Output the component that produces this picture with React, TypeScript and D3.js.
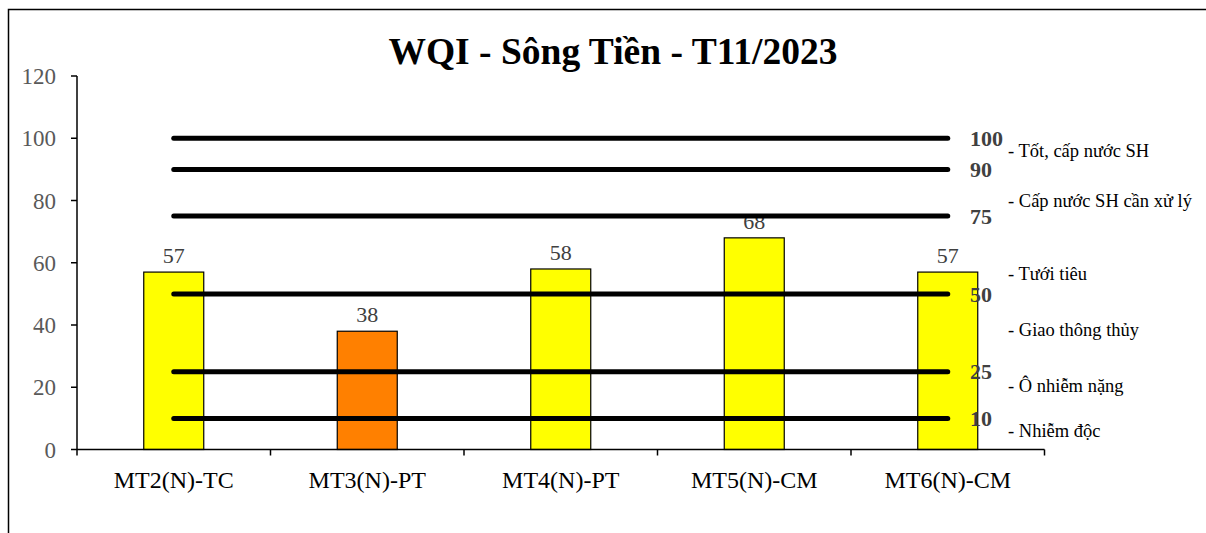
import React from "react";
import * as d3 from "d3";

const categories = ["MT2(N)-TC", "MT3(N)-PT", "MT4(N)-PT", "MT5(N)-CM", "MT6(N)-CM"];
const values = [57, 38, 58, 68, 57];
const barColors = ["#FFFF00", "#FF8000", "#FFFF00", "#FFFF00", "#FFFF00"];
const thresholds = [100, 90, 75, 50, 25, 10];
const yTicks = [0, 20, 40, 60, 80, 100, 120];
const classLabels = [
  { text: "- Tốt, cấp nước SH", v: 96 },
  { text: "- Cấp nước SH cần xử lý", v: 80 },
  { text: "- Tưới tiêu", v: 56.5 },
  { text: "- Giao thông thủy", v: 38.5 },
  { text: "- Ô nhiễm nặng", v: 20.5 },
  { text: "- Nhiễm độc", v: 6 },
];
const title = "WQI - Sông Tiền - T11/2023";

const W = 1206, H = 533;
const left = 77, right = 1044.5, top = 76, bottom = 449.5;
const font = "'Liberation Serif', 'Times New Roman', serif";

export default function App() {
  const x = d3.scaleBand<string>().domain(categories).range([left, right]).paddingInner(0).paddingOuter(0);
  const y = d3.scaleLinear().domain([0, 120]).range([bottom, top]);
  const bw = 60;
  const x0 = x(categories[0])! + x.bandwidth() / 2;
  const x1 = x(categories[categories.length - 1])! + x.bandwidth() / 2;
  return (
    <svg width={W} height={H} style={{ position: "absolute", left: 0, top: 0, background: "#fff" }}>
      <rect x={8.5} y={9.5} width={1300} height={700} fill="#fff" stroke="#000" strokeWidth={1.5} />
      <text x={613} y={64} textAnchor="middle" fontFamily={font} fontWeight="bold" fontSize={37.5}>{title}</text>
      {categories.map((c, i) => (
        <rect key={c} x={x(c)! + x.bandwidth() / 2 - bw / 2} y={y(values[i])} width={bw} height={y(0) - y(values[i])}
          fill={barColors[i]} stroke="#000" strokeWidth={1.2} />
      ))}
      {categories.map((c, i) => (
        <text key={"l" + c} x={x(c)! + x.bandwidth() / 2} y={y(values[i]) - 9} textAnchor="middle"
          fontFamily={font} fontSize={22} fill="#404040">{values[i]}</text>
      ))}
      {thresholds.map((t) => (
        <g key={"t" + t}>
          <line x1={x0} x2={x1} y1={y(t)} y2={y(t)} stroke="#000" strokeWidth={5} strokeLinecap="round" />
          <text x={970} y={y(t)} dy="0.35em" fontFamily={font} fontWeight="bold" fontSize={22} fill="#404040">{t}</text>
        </g>
      ))}
      {classLabels.map((c) => (
        <text key={c.text} x={1008} y={y(c.v)} dy="0.35em" fontFamily={font} fontSize={18.5} fill="#000">{c.text}</text>
      ))}
      <line x1={left} x2={left} y1={top} y2={bottom} stroke="#000" strokeWidth={1.5} />
      {yTicks.map((t) => (
        <g key={"y" + t}>
          <line x1={left - 6} x2={left} y1={y(t)} y2={y(t)} stroke="#000" strokeWidth={1.5} />
          <text x={left - 21} y={y(t)} dy="0.35em" textAnchor="end" fontFamily={font} fontSize={23} fill="#595959">{t}</text>
        </g>
      ))}
      <line x1={left} x2={right} y1={bottom} y2={bottom} stroke="#000" strokeWidth={1.5} />
      {categories.map((c) => (
        <line key={"xt" + c} x1={x(c)!} x2={x(c)!} y1={bottom} y2={bottom + 6} stroke="#000" strokeWidth={1.5} />
      ))}
      <line x1={right} x2={right} y1={bottom} y2={bottom + 6} stroke="#000" strokeWidth={1.5} />
      {categories.map((c) => (
        <text key={"xl" + c} x={x(c)! + x.bandwidth() / 2} y={480} dy="0.35em" textAnchor="middle"
          fontFamily={font} fontSize={24} fill="#000">{c}</text>
      ))}
    </svg>
  );
}
